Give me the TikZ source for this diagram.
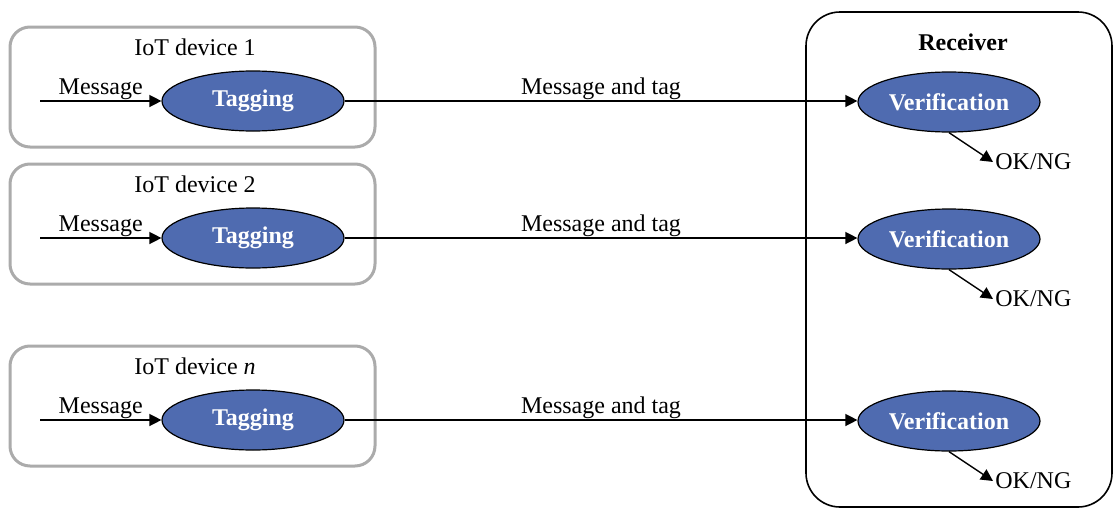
\documentclass[tikz,border=0pt]{standalone}
\usepackage{fontspec}
\setmainfont{Liberation Serif}
\usetikzlibrary{arrows.meta,shapes.geometric,positioning}
\definecolor{tagblue}{RGB}{79,107,176}
\definecolor{boxgray}{RGB}{171,171,171}
\tikzset{
  devbox/.style={draw=boxgray, line width=1.5pt, rounded corners=10pt, minimum width=182.5pt, minimum height=60pt},
  proc/.style={ellipse, draw, fill=tagblue, text=white, font=\fontsize{12}{14}\selectfont\bfseries, minimum width=91pt, minimum height=30pt, inner sep=0pt, line width=0.6pt},
  arr/.style={-{Triangle[length=6pt,width=6pt]}, line width=0.7pt},
  lbl/.style={inner sep=0.5pt},
}
\begin{document}
\begin{tikzpicture}[x=0.5pt, y=-0.5pt, font=\fontsize{12}{14}\selectfont]
  \useasboundingbox (0,0) rectangle (1115,509);

  %receiver
  \node[draw, rounded corners=17pt, line width=0.8pt, minimum width=153pt, minimum height=247.5pt] (recv) at (959,259.5) {};
  \node[font=\fontsize{12}{14}\selectfont\bfseries] (recvtitle) at (963,42) {Receiver};

  %one row per device
  \foreach \i/\y/\dname in {1/101/1, 2/238/2, n/420/\textit{n}} {
    \node[devbox] (dev\i) at (192.5,\y-14) {};
    \node (devtitle\i) at (195,\y-54) {IoT device \dname};
    \node[proc] (tag\i) at (253,\y) {Tagging};
    \node[proc] (ver\i) at (949,\y+1) {Verification};
    \coordinate (in\i) at (40,\y);
    \node[anchor=west, inner sep=1pt] (ok\i) at (993,\y+61) {OK/NG};

    \draw[arr] (in\i) -- (tag\i) node[midway, above, lbl] {Message};
    \draw[arr] (tag\i) -- (ver\i.west |- tag\i) node[midway, above, lbl] {Message and tag};
    \draw[arr] (ver\i.south) -- (ok\i.west);
  }
\end{tikzpicture}
\end{document}
